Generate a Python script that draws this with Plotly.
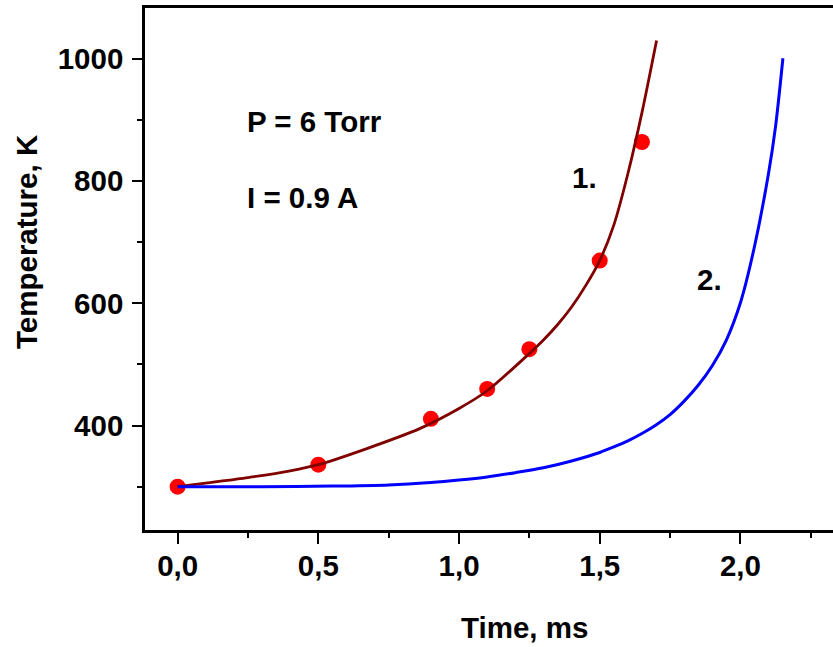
import plotly.graph_objects as go

# Experimental points (red dots)
exp_time = [0.0, 0.5, 0.9, 1.1, 1.25, 1.5, 1.65]
exp_temp = [300, 336, 411, 460, 525, 670, 864]

# Curve 1 (dark red)
c1_time = [0.0, 0.1, 0.25, 0.4, 0.5, 0.67, 0.86, 1.0, 1.1, 1.25, 1.3, 1.35, 1.4, 1.45, 1.5,
           1.55, 1.6, 1.65, 1.702]
c1_temp = [300, 306, 315, 326, 336, 362, 395, 428, 457, 518, 540, 565, 594, 629, 670,
           728, 812, 912, 1030]

# Curve 2 (blue)
c2_time = [0.0, 0.3, 0.55, 0.75, 0.9, 1.0, 1.1, 1.2, 1.3, 1.4, 1.5, 1.55, 1.6, 1.65, 1.7,
           1.75, 1.8, 1.85, 1.9, 1.95, 2.0, 2.05, 2.1, 2.125, 2.151]
c2_temp = [300, 300, 301, 303, 307, 311, 316, 323, 331, 342, 356, 365, 375, 387, 401,
           418, 440, 466, 498, 540, 601, 693, 813, 890, 1001]

x_tickvals = [0.0, 0.5, 1.0, 1.5, 2.0]
x_ticktext = ["0,0", "0,5", "1,0", "1,5", "2,0"]
y_tickvals = [400, 600, 800, 1000]
y_ticktext = ["400", "600", "800", "1000"]

FONT = "Arial, Liberation Sans, sans-serif"
FS = 29.5

fig = go.Figure()
fig.add_trace(go.Scatter(x=exp_time, y=exp_temp, mode="markers",
                         marker=dict(color="#FF0000", size=16, line=dict(width=0)),
                         showlegend=False))
fig.add_trace(go.Scatter(x=c1_time, y=c1_temp, mode="lines",
                         line=dict(color="#800000", width=2.8, shape="spline", smoothing=0.8),
                         showlegend=False))
fig.add_trace(go.Scatter(x=c2_time, y=c2_temp, mode="lines",
                         line=dict(color="#0000FF", width=3, shape="spline", smoothing=0.8),
                         showlegend=False))

ann_font = dict(family=FONT, size=FS, color="black", weight="bold")

def px_ann(px, py, text, xanchor="left", textangle=0):
    fig.add_annotation(x=px / 833, y=1 - py / 647, xref="paper", yref="paper",
                       text=text, showarrow=False, xanchor=xanchor, yanchor="middle",
                       textangle=textangle, font=ann_font, borderpad=0)

fig.update_layout(
    width=833, height=647,
    margin=dict(l=0, r=0, t=0, b=0, autoexpand=False),
    paper_bgcolor="white", plot_bgcolor="white",
    xaxis=dict(domain=[145 / 833, 1.0], range=[-0.116, 2.329],
               tickvals=x_tickvals, ticktext=x_ticktext,
               ticks="outside", ticklen=12, tickwidth=2, tickcolor="black",
               ticklabelstandoff=-4,
               minor=dict(dtick=0.25, tick0=0, ticks="outside", ticklen=6, tickwidth=2, tickcolor="black"),
               showline=True, linewidth=2.5, linecolor="black", mirror=True,
               showgrid=False, zeroline=False,
               tickfont=dict(family=FONT, size=FS, color="black", weight="bold")),
    yaxis=dict(domain=[1 - 529.5 / 647, 1 - 7.5 / 647], range=[230, 1084],
               tickvals=y_tickvals, ticktext=y_ticktext,
               ticks="outside", ticklen=10, tickwidth=2, tickcolor="black",
               ticklabelstandoff=3,
               minor=dict(dtick=100, tick0=0, ticks="outside", ticklen=5, tickwidth=2, tickcolor="black"),
               showline=True, linewidth=2.5, linecolor="black", mirror=False,
               showgrid=False, zeroline=False,
               tickfont=dict(family=FONT, size=FS, color="black", weight="bold")),
)

px_ann(246, 121, "P = 6 Torr")
px_ann(246, 197, "I = 0.9 A")
px_ann(571, 178, "1.")
px_ann(696, 279, "2.")
px_ann(524, 627, "Time, ms", xanchor="center")
px_ann(26, 242, "Temperature, K", xanchor="center", textangle=-90)

fig.write_html("out.html", config={"displayModeBar": False},
               post_script="document.body.style.margin='0';document.body.style.overflow='hidden';")
